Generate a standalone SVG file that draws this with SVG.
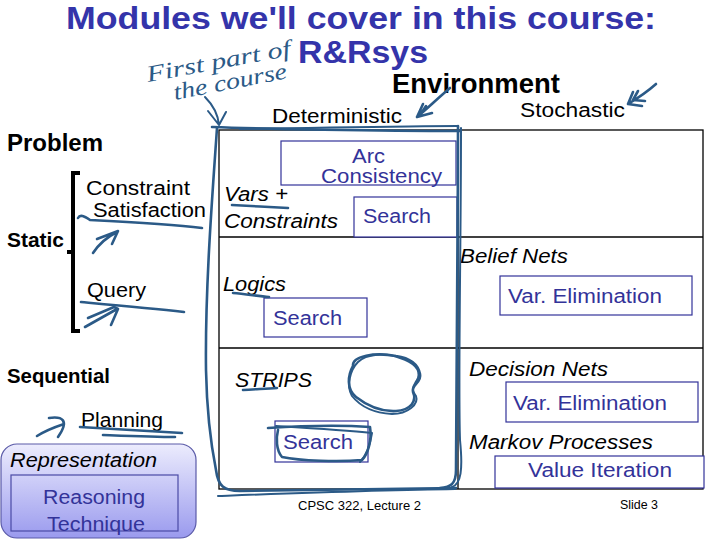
<svg xmlns="http://www.w3.org/2000/svg" width="720" height="540" viewBox="0 0 720 540">
<defs>
<linearGradient id="repGrad" x1="0" y1="0" x2="0" y2="1">
<stop offset="0" stop-color="#ececfd"/>
<stop offset="1" stop-color="#9a9aee"/>
</linearGradient>
<style>
text{font-family:"Liberation Sans",Arial,sans-serif;font-size:20px;fill:#000}
.title{font-weight:bold;font-size:32px;fill:#3434aa}
.b{font-weight:bold}
.i{font-style:italic}
.blue{fill:#333399}
.small{font-size:13px}
.hand{font-family:"Liberation Serif",serif;font-style:italic;font-size:23px;fill:#2b5a87}
.grid{fill:none;stroke:#000;stroke-width:1.3}
.box{fill:#fff;stroke:#333399;stroke-width:1.2}
.ink{fill:none;stroke:#2b5a87;stroke-width:2.6;stroke-linecap:round;stroke-linejoin:round}
.ink2{fill:none;stroke:#2b5a87;stroke-width:2;stroke-linecap:round;stroke-linejoin:round}
</style>
</defs>
<rect width="720" height="540" fill="#fff"/>

<g id="title">
<text class="title"><tspan x="66" y="29" textLength="590" lengthAdjust="spacingAndGlyphs">Modules we'll cover in this course:</tspan><tspan x="298" y="63" textLength="130" lengthAdjust="spacingAndGlyphs">R&amp;Rsys</tspan></text>
</g>

<g id="headers">
<text class="b" x="392" y="93" style="font-size:27px" textLength="168" lengthAdjust="spacingAndGlyphs">Environment</text>
<text x="272" y="123" style="font-size:21px" textLength="130" lengthAdjust="spacingAndGlyphs">Deterministic</text>
<text x="520" y="117" textLength="105" lengthAdjust="spacingAndGlyphs">Stochastic</text>
<text class="b" x="7" y="151" style="font-size:23px" textLength="96" lengthAdjust="spacingAndGlyphs">Problem</text>
<text class="b" x="7" y="247" style="font-size:21px" textLength="57" lengthAdjust="spacingAndGlyphs">Static</text>
<text class="b" x="7" y="383" style="font-size:21px" textLength="103" lengthAdjust="spacingAndGlyphs">Sequential</text>
<text x="86" y="195" textLength="104" lengthAdjust="spacingAndGlyphs">Constraint</text>
<text x="93" y="217" textLength="113" lengthAdjust="spacingAndGlyphs">Satisfaction</text>
<text x="87" y="297" textLength="59" lengthAdjust="spacingAndGlyphs">Query</text>
<text x="81" y="427" textLength="82" lengthAdjust="spacingAndGlyphs">Planning</text>
<path d="M80,173 L73,173 L73,331 L80,331 M73,252 L67,252" fill="none" stroke="#000" stroke-width="4"/>
</g>

<g id="table">
<rect class="grid" x="219" y="130" width="484" height="359"/>
<line class="grid" x1="458" y1="130" x2="458" y2="489"/>
<line class="grid" x1="219" y1="237" x2="703" y2="237"/>
<line class="grid" x1="219" y1="348" x2="703" y2="348"/>
</g>

<g id="cell-csp">
<rect class="box" x="281" y="141" width="175" height="44"/>
<text class="blue" x="352" y="163" textLength="33" lengthAdjust="spacingAndGlyphs">Arc</text>
<text class="blue" x="321" y="183" textLength="121" lengthAdjust="spacingAndGlyphs">Consistency</text>
<text class="i" x="224" y="201" textLength="64" lengthAdjust="spacingAndGlyphs">Vars +</text>
<text class="i" x="224" y="228" textLength="114" lengthAdjust="spacingAndGlyphs">Constraints</text>
<rect class="box" x="354" y="197" width="103" height="40"/>
<text class="blue" x="363" y="223" textLength="68" lengthAdjust="spacingAndGlyphs">Search</text>
</g>

<g id="cell-logics">
<text class="i" x="223" y="291" textLength="63" lengthAdjust="spacingAndGlyphs">Logics</text>
<rect class="box" x="264" y="298" width="103" height="39"/>
<text class="blue" x="273" y="325" textLength="69" lengthAdjust="spacingAndGlyphs">Search</text>
</g>

<g id="cell-belief">
<text class="i" x="460" y="263" textLength="108" lengthAdjust="spacingAndGlyphs">Belief Nets</text>
<rect class="box" x="500" y="276" width="192" height="39"/>
<text class="blue" x="508" y="303" textLength="154" lengthAdjust="spacingAndGlyphs">Var. Elimination</text>
</g>

<g id="cell-strips">
<text class="i" x="235" y="387" textLength="77" lengthAdjust="spacingAndGlyphs">STRIPS</text>
<rect class="box" x="275" y="421" width="93" height="41"/>
<text class="blue" x="283" y="449" textLength="70" lengthAdjust="spacingAndGlyphs">Search</text>
</g>

<g id="cell-decision">
<text class="i" x="469" y="376" textLength="139" lengthAdjust="spacingAndGlyphs">Decision Nets</text>
<rect class="box" x="506" y="382" width="192" height="40"/>
<text class="blue" x="513" y="410" textLength="154" lengthAdjust="spacingAndGlyphs">Var. Elimination</text>
<text class="i" x="469" y="449" textLength="184" lengthAdjust="spacingAndGlyphs">Markov Processes</text>
<rect class="box" x="495" y="456" width="209" height="32"/>
<text class="blue" x="528" y="477" textLength="144" lengthAdjust="spacingAndGlyphs">Value Iteration</text>
</g>

<g id="legend">
<rect x="1" y="444" width="195" height="94" rx="16" fill="url(#repGrad)" stroke="#5a5aa8" stroke-width="1.2"/>
<text class="i" x="10" y="467" textLength="147" lengthAdjust="spacingAndGlyphs">Representation</text>
<rect x="11" y="475" width="167" height="56" fill="none" stroke="#4a4aa6" stroke-width="1.2"/>
<text class="blue" x="43" y="504" textLength="102" lengthAdjust="spacingAndGlyphs">Reasoning</text>
<text class="blue" x="47" y="531" textLength="98" lengthAdjust="spacingAndGlyphs">Technique</text>
</g>

<g id="footer">
<text class="small" x="298" y="510" textLength="123" lengthAdjust="spacingAndGlyphs">CPSC 322, Lecture 2</text>
<text class="small" x="620" y="509" textLength="38" lengthAdjust="spacingAndGlyphs">Slide 3</text>
</g>

<g id="handnote">
<text class="hand" x="148" y="82" transform="rotate(-10.5 148 82)" textLength="146" lengthAdjust="spacingAndGlyphs">First part of</text>
<text class="hand" x="175" y="100" transform="rotate(-11 175 100)" textLength="115" lengthAdjust="spacingAndGlyphs">the course</text>
</g>

<g id="connectors">
<path class="ink2" d="M205,97 C214,106 218,114 219,125 M208,111 L219,125 L226,112"/>
<path class="ink" d="M450,88 C438,98 428,108 417,117 M423,104 L417,117 L432,113 M426,106 L420,115"/>
<path class="ink" d="M656,84 C647,92 638,98 628,104 M633,92 L628,104 L642,106 M638,91 L633,100 L645,101"/>
<path class="ink" d="M212,127 C260,129 380,131 460,131"/>
<path class="ink2" d="M240,129 C320,128 400,126 458,126"/>
<path class="ink" d="M458,126 C458,250 456,380 456,470 C456,484 451,487 440,488"/>
<path class="ink2" d="M461,128 C461,250 458,380 460,440 C463,470 461,484 452,487"/>
<path class="ink" d="M217,128 C212,200 205,290 206,370 C207,420 212,450 216,470 C218,486 224,491 240,491 C320,490 400,489 456,488"/>
<path class="ink2" d="M218,496 C300,493 380,490 455,489"/>
<path class="ink" d="M78,218 C80,214 84,216 90,220 C130,222 170,224 202,228"/>
<path class="ink" d="M81,302 C115,305 150,308 184,312"/>
<path class="ink" d="M80,427 C115,429 150,431 182,433 M103,435 C130,436 155,437 175,437"/>
<path class="ink" d="M232,205 C250,206 270,207 288,208"/>
<path class="ink" d="M233,293 C245,294 258,296 269,297"/>
<path class="ink" d="M243,390 C255,389 266,389 277,388"/>
<path class="ink" d="M93,253 C99,244 107,237 117,232 M97,239 L118,231 L112,244"/>
<path class="ink" d="M85,327 L117,309 M88,318 L114,307 L118,309 L111,325"/>
<path class="ink" d="M37,436 C45,431 55,427 64,424 M49,418 C62,416 70,420 58,437"/>
<path class="ink" d="M268,428 C300,426 340,425 370,427 C372,440 368,454 362,460 C340,462 300,461 282,457 C276,450 276,438 278,430"/>
<path class="ink2" d="M276,426 C310,428 345,430 372,433 C370,446 367,455 360,462"/>
<path class="ink" d="M353,366 C352,356 375,352 396,356 C410,358 418,364 420,374 C422,383 411,384 413,392 C417,401 411,410 396,411 C378,412 365,404 356,397 C346,389 348,375 353,366 Z"/>
<path class="ink2" d="M358,362 C366,354 386,352 400,358 C412,362 421,368 418,378 C414,386 410,388 416,396 C419,404 408,414 392,414 C374,413 360,406 352,396 C346,386 350,370 358,362 Z"/>
</g>
</svg>
